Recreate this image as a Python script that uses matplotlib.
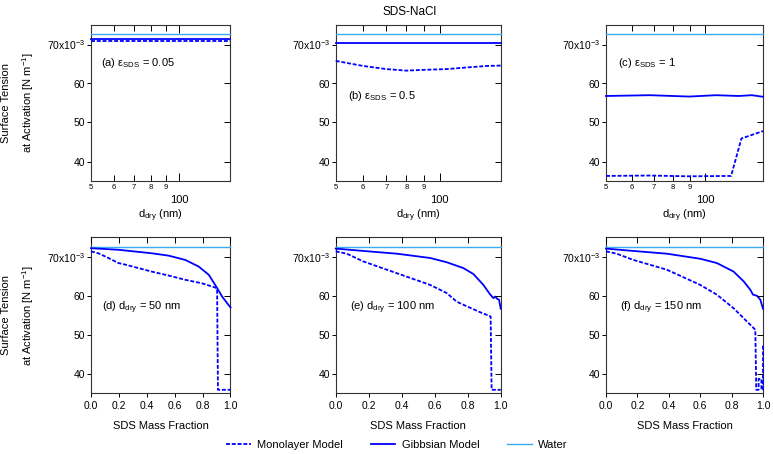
import numpy as np
import matplotlib
matplotlib.use('Agg')
import matplotlib.pyplot as plt
from matplotlib.ticker import FixedLocator, NullLocator
from matplotlib.lines import Line2D

plt.rcParams['font.family'] = ['Liberation Sans', 'DejaVu Sans']
plt.rcParams['mathtext.fontset'] = 'custom'
plt.rcParams['mathtext.rm'] = 'Liberation Sans'
plt.rcParams['mathtext.it'] = 'Liberation Sans'

#%% data (surface tension in 1e-3 N/m)
water = 72.6

# top row: vs dry diameter (nm)
ddry_a = [50, 150]
a_gibbs = [71.5, 71.5]
a_mono = [70.95, 70.95]

ddry_b = [50, 60, 70, 80, 90, 105, 123, 137, 150]
b_gibbs = [70.4, 70.4, 70.4, 70.4, 70.4, 70.4, 70.4, 70.4, 70.4]
b_mono = [65.8, 64.5, 63.7, 63.3, 63.5, 63.7, 64.2, 64.5, 64.6]

ddry_c_g = [50, 68, 89.5, 108, 126.5, 138.6, 150]
c_gibbs = [56.8, 57.0, 56.65, 57.0, 56.8, 57.0, 56.6]
ddry_c_m = [50, 68, 89.5, 120, 129, 150]
c_mono = [36.3, 36.4, 36.2, 36.3, 45.9, 47.8]

# bottom row: vs SDS mass fraction
d_frac_g = [0, 0.197, 0.436, 0.556, 0.676, 0.772, 0.844, 0.904, 0.94, 1.0]
d_gibbs = [72.2, 71.8, 70.9, 70.3, 69.2, 67.5, 65.4, 62.0, 59.8, 57.0]
d_frac_m = [0, 0.053, 0.125, 0.197, 0.245, 0.436, 0.556, 0.676, 0.796, 0.892, 0.904, 0.91, 1.0]
d_mono = [71.4, 70.9, 69.7, 68.4, 68.0, 66.2, 65.2, 64.1, 63.2, 62.1, 61.7, 35.9, 35.9]

e_frac_g = [0, 0.168, 0.37, 0.572, 0.673, 0.774, 0.834, 0.895, 0.935, 0.956, 0.966, 0.98, 0.99, 1.0]
e_gibbs = [72.1, 71.5, 70.8, 69.7, 68.6, 67.1, 65.6, 62.8, 60.4, 59.4, 59.8, 59.2, 59.0, 56.7]
e_frac_m = [0, 0.067, 0.168, 0.37, 0.572, 0.673, 0.733, 0.774, 0.875, 0.939, 0.945, 1.0]
e_mono = [71.4, 70.8, 68.8, 65.8, 62.8, 60.7, 58.5, 57.7, 55.8, 54.7, 35.9, 35.9]

f_frac_g = [0, 0.174, 0.387, 0.6, 0.706, 0.813, 0.877, 0.92, 0.936, 0.962, 0.983, 1.0]
f_gibbs = [72.1, 71.5, 70.8, 69.5, 68.4, 66.2, 63.7, 61.5, 60.3, 60.0, 59.0, 56.7]
f_frac_m = [0, 0.068, 0.174, 0.387, 0.6, 0.706, 0.813, 0.898, 0.951, 0.957, 0.972, 0.972, 0.99, 0.99, 1.0, 1.0]
f_mono = [71.4, 70.8, 69.2, 66.7, 62.8, 60.3, 56.8, 53.4, 51.3, 35.9, 35.9, 38.7, 38.7, 35.9, 35.9, 47.4]

yticks = [40, 50, 60, 70]
ytick_labels = ['40', '50', '60', '70x10$^{-3}$']
frac_ticks = [0.0, 0.2, 0.4, 0.6, 0.8, 1.0]
ddry_minor = [50, 60, 70, 80, 90]
ddry_minor_labels = ['5', '6', '7', '8', '9']

labels_top = ['(a) \u03b5$_{\\rm SDS}$ = 0.05', '(b) \u03b5$_{\\rm SDS}$ = 0.5', '(c) \u03b5$_{\\rm SDS}$ = 1']
labels_bot = ['(d) d$_{\\rm dry}$ = 50 nm', '(e) d$_{\\rm dry}$ = 100 nm', '(f) d$_{\\rm dry}$ = 150 nm']

#%% styles
BLUE = '#0000ff'
LBLUE = '#3aaaf2'
lw = 1.3
dash = (2.2, 1.0)

W, H = 773, 454
fig = plt.figure(figsize=(W/100, H/100), dpi=100)

def px_axes(left, top, right, bottom):
    return fig.add_axes([left/W, 1-bottom/H, (right-left)/W, (bottom-top)/H])

cols = [(91, 230.5), (335.7, 500.7), (606, 763)]
top_axes = [px_axes(l, 25, r, 181) for l, r in cols]
bot_axes = [px_axes(l, 237.3, r, 393.3) for l, r in cols]

def style_y(ax):
    ax.set_ylim(35, 75)
    ax.set_yticks(yticks)
    ax.set_yticklabels(ytick_labels)
    ax.tick_params(axis='y', which='both', direction='out', length=3, width=0.7,
                   labelsize=7.5, pad=1, right=False)
    # right side ticks point inward
    tw = ax.twinx()
    tw.set_ylim(35, 75)
    tw.set_yticks(yticks)
    tw.tick_params(axis='y', direction='in', length=4, width=0.7, labelright=False)
    for s in tw.spines.values():
        s.set_visible(False)
    for s in ax.spines.values():
        s.set_linewidth(0.8)
        s.set_color('#333333')

for i, ax in enumerate(top_axes):
    ax.set_xscale('log')
    ax.set_xlim(50, 150)
    ax.xaxis.set_major_locator(FixedLocator([100]))
    ax.xaxis.set_minor_locator(FixedLocator(ddry_minor))
    ax.set_xticklabels(['100'])
    ax.set_xticklabels(ddry_minor_labels, minor=True)
    ax.tick_params(axis='x', which='major', direction='in', length=6, width=0.7,
                   labelsize=8, pad=10, top=True)
    ax.tick_params(axis='x', which='minor', direction='in', length=4.5, width=0.7,
                   labelsize=5.5, pad=2.5, top=True)
    style_y(ax)
    ax.set_xlabel('d$_{\\rm dry}$ (nm)', fontsize=8, labelpad=2)
    ax.text(0.075, 0.755 if i != 1 else 0.547, labels_top[i], transform=ax.transAxes,
            fontsize=8, va='center', ha='left')

for i, ax in enumerate(bot_axes):
    ax.set_xlim(0, 1)
    ax.set_xticks(frac_ticks)
    ax.set_xticklabels(['%.1f' % t for t in frac_ticks])
    ax.tick_params(axis='x', which='both', direction='out', length=3, width=0.7,
                   labelsize=7.5, pad=2.5)
    # top ticks inward
    ty = ax.twiny()
    ty.set_xlim(0, 1)
    ty.set_xticks(frac_ticks)
    ty.tick_params(axis='x', direction='in', length=4, width=0.7, labeltop=False)
    for s in ty.spines.values():
        s.set_visible(False)
    style_y(ax)
    ax.set_xlabel('SDS Mass Fraction', fontsize=8, labelpad=7)
    ax.text([0.077, 0.087, 0.089][i], 0.549, labels_bot[i], transform=ax.transAxes,
            fontsize=8, va='center', ha='left')

#%% lines
def draw(ax, xw, xg, yg, xm, ym):
    ax.plot(xw, [water]*len(xw), color=LBLUE, lw=1.0, clip_on=False, zorder=3)
    ax.plot(xg, yg, color=BLUE, lw=lw, clip_on=False, zorder=3)
    ax.plot(xm, ym, color=BLUE, lw=lw, ls=(0, dash), clip_on=False, zorder=3)

draw(top_axes[0], [50, 150], ddry_a, a_gibbs, ddry_a, a_mono)
draw(top_axes[1], [50, 150], ddry_b, b_gibbs, ddry_b, b_mono)
draw(top_axes[2], [50, 150], ddry_c_g, c_gibbs, ddry_c_m, c_mono)
draw(bot_axes[0], [0, 1], d_frac_g, d_gibbs, d_frac_m, d_mono)
draw(bot_axes[1], [0, 1], e_frac_g, e_gibbs, e_frac_m, e_mono)
draw(bot_axes[2], [0, 1], f_frac_g, f_gibbs, f_frac_m, f_mono)

fig.text(410/W, 1-12/H, 'SDS-NaCl', ha='center', va='center', fontsize=8.5)
for yc in [(25+181)/2, (237.3+393.3)/2]:
    fig.text(18.5/W, 1-yc/H, 'Surface Tension\nat Activation [N m$^{-1}$]', rotation=90,
             ha='center', va='center', fontsize=8, multialignment='center', linespacing=1.75)

handles = [Line2D([], [], color=BLUE, lw=lw, ls=(0, dash)),
           Line2D([], [], color=BLUE, lw=lw),
           Line2D([], [], color=LBLUE, lw=1.0)]
fig.legend(handles, ['Monolayer Model', 'Gibbsian Model', 'Water'], loc='center',
           bbox_to_anchor=(397/W, 1-445/H), ncol=3, frameon=False, fontsize=8,
           handlelength=2.2, columnspacing=2.5, handletextpad=0.6)

fig.savefig('out.png', dpi=100)
